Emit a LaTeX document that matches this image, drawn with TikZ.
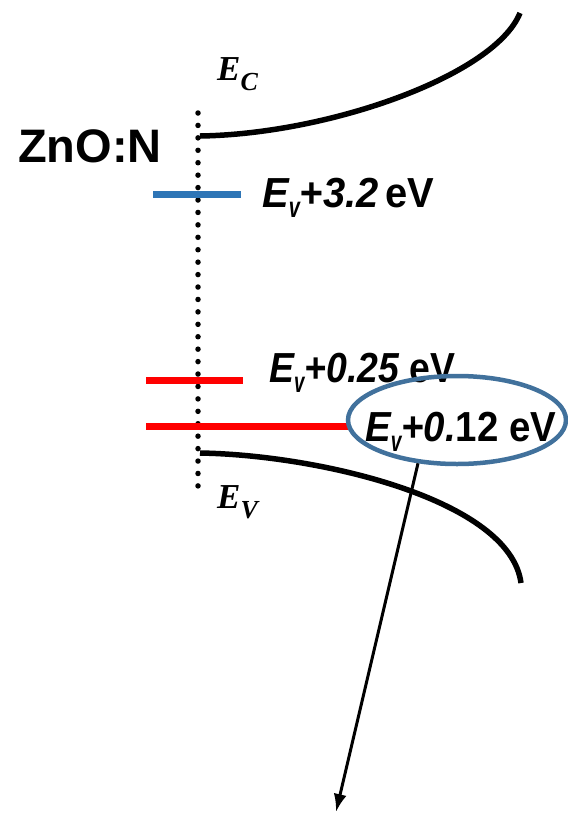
\documentclass[tikz,border=0pt]{standalone}
\usepackage{fontspec}
\setmainfont{Liberation Serif}
\newfontfamily\arialf{Liberation Sans}
\usetikzlibrary{arrows.meta,shapes.geometric}
\definecolor{lvlblue}{RGB}{46,117,182}
\definecolor{ellblue}{RGB}{65,113,156}
\definecolor{lvlred}{RGB}{255,0,0}
\newcommand\sublbl[1]{\raisebox{-10pt}{\fontsize{29}{29}\selectfont\scalebox{0.72}[1]{#1}}}
\newcommand\subser[1]{\raisebox{-10pt}{\fontsize{26}{26}\selectfont #1}}
\begin{document}
\begin{tikzpicture}[x=1pt,y=-1pt,
  band/.style={line width=5.5pt,line cap=butt},
  lvl/.style={line width=7pt},
  lbl/.style={inner sep=0pt,anchor=base west,font=\arialf\bfseries\itshape\fontsize{42}{42}\selectfont},
  elbl/.style={inner sep=0pt,anchor=base west,font=\bfseries\itshape\fontsize{35}{35}\selectfont}]
\useasboundingbox (0,0) rectangle (568,815);
% dotted reference line
\draw[line width=5.5pt,line cap=round,dash pattern=on 0pt off 12.43pt] (198,113) -- (198,486);
% bands
\draw[band] (200,136) .. controls (330,134) and (495,75) .. (520,13);
\draw[band] (200,453) .. controls (320,455) and (510,500) .. (521,583);
% levels
\draw[lvl,lvlblue] (153,194) -- (241,194);
\draw[lvl,lvlred] (146,380) -- (243,380);
\draw[lvl,lvlred] (146,426) -- (348,426);
% labels
\node[inner sep=0pt,anchor=base west,font=\arialf\bfseries\fontsize{47}{47}\selectfont] (zno) at (18,162) {ZnO:N};
\node[elbl] (ec) at (217,80) {E\subser{C}};
\node[elbl] (ev) at (217,508) {E\subser{V}};
\node[lbl] (l32) at (262,207) {\scalebox{0.95}[1]{E\sublbl{v}+3.2\,\upshape eV}};
\node[lbl] (l25) at (269,382) {\scalebox{0.89}[1]{E\sublbl{v}+0.25 \upshape eV}};
\node[lbl] (l12) at (365,441) {\scalebox{0.915}[1]{E\sublbl{v}+0.\upshape 12 eV}};
% ellipse and arrow
\node[draw=ellblue,line width=4.5pt,ellipse,minimum width=218pt,minimum height=88pt,inner sep=0pt] (ell) at (457,420) {};
\coordinate (tip) at (336,812);
\draw[line width=3pt,-{Latex[length=18pt,width=13pt]}] (ell.-132) -- (tip);
\end{tikzpicture}
\end{document}
